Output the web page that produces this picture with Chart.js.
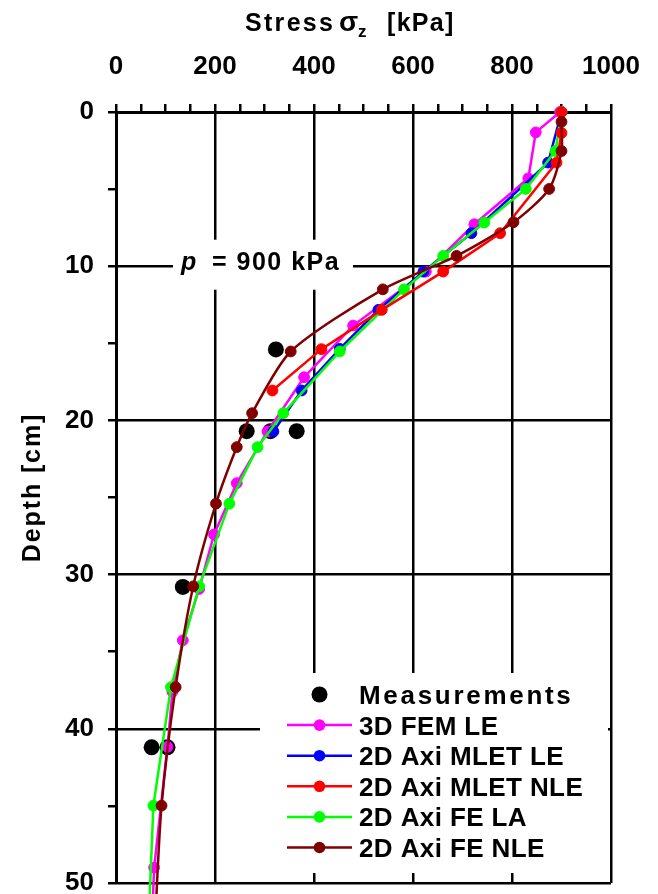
<!DOCTYPE html>
<html>
<head>
<meta charset="utf-8">
<script src="https://cdn.jsdelivr.net/npm/chart.js@4.4.0/dist/chart.umd.min.js"></script>
<style>
  html, body { margin: 0; padding: 0; background: #fff; }
  #wrap { width: 658px; height: 894px; position: relative; }
  canvas { display: block; }
</style>
</head>
<body>
<div id="wrap"><canvas id="c" width="658" height="894"></canvas></div>
<script>
const FONT = '"Liberation Sans", Arial, Helvetica, sans-serif';

// Axis ticks
const stressTickLabels = [0, 200, 400, 600, 800, 1000];   // kPa
const depthTickLabels = [0, 10, 20, 30, 40, 50];          // cm

// Measured stresses (kPa) at gauge depths (cm)
const measDepth  = [15.4, 20.7, 20.7, 20.7, 30.8, 41.2, 41.2];
const measStress = [323, 264, 312, 365, 135, 72, 104];

// 3D FEM, linear elastic
const fem3dDepth  = [0, 1.32, 4.3, 7.28, 10.35, 13.85, 17.2, 20.72, 24.07, 27.4, 30.93, 34.26, 37.6, 41.17, 49.0, 52.3];
const fem3dStress = [897, 848, 833, 724, 626, 479, 380, 306, 244, 198, 168, 135, 114, 104, 77, 73];

// 2D axisymmetric multilayer elastic theory, linear elastic
const mletLEDepth  = [0, 3.28, 7.86, 10.35, 12.83, 15.36, 18.06, 20.72];
const mletLEStress = [900, 873, 718, 621, 530, 452, 375, 318];

// 2D axisymmetric multilayer elastic theory, nonlinear elastic
const mletNLEDepth  = [0, 1.36, 3.28, 7.86, 10.35, 12.83, 15.38, 18.06];
const mletNLEStress = [900, 900, 890, 776, 661, 537, 415, 316];

// 2D axisymmetric finite elements, linear
const feLADepth  = [0, 2.53, 4.99, 7.17, 9.33, 11.5, 15.53, 19.53, 21.73, 25.4, 30.76, 37.3, 44.98, 52.5];
const feLAStress = [900, 888, 828, 744, 661, 582, 452, 338, 286, 229, 168, 111, 75.5, 66];

// 2D axisymmetric finite elements, nonlinear elastic
const feNLEDepth  = [0.63, 2.53, 4.99, 7.15, 9.33, 11.5, 15.53, 19.53, 21.73, 25.4, 30.76, 37.3, 44.98, 52.5];
const feNLEStress = [900, 900, 875, 803, 688, 539, 353, 275, 244, 202, 156, 120.5, 92, 79];

const seriesNames = ['Measurements', '3D FEM LE', '2D Axi MLET LE', '2D Axi MLET NLE', '2D Axi FE LA', '2D Axi FE NLE'];
const seriesColors = ['#000000', '#ff00ff', '#0000ff', '#ff0000', '#00ff00', '#800000'];

function pts(stress, depth) {
  return stress.map((s, i) => ({ x: s, y: depth[i] }));
}

function lineSet(idx, stress, depth, order, tension) {
  return {
    label: seriesNames[idx],
    data: pts(stress, depth),
    borderColor: seriesColors[idx],
    backgroundColor: seriesColors[idx],
    pointBackgroundColor: seriesColors[idx],
    pointBorderColor: seriesColors[idx],
    pointBorderWidth: 1,
    pointRadius: 5.4,
    borderWidth: 2.5,
    tension: tension || 0,
    order: order,
    clip: false
  };
}

const datasets = [
  {
    label: seriesNames[0],
    data: pts(measStress, measDepth),
    showLine: false,
    pointRadius: 8,
    pointBackgroundColor: seriesColors[0],
    pointBorderColor: seriesColors[0],
    pointBorderWidth: 0,
    borderColor: seriesColors[0],
    backgroundColor: seriesColors[0],
    order: 6,
    clip: false
  },
  lineSet(1, fem3dStress, fem3dDepth, 5),
  lineSet(2, mletLEStress, mletLEDepth, 4),
  lineSet(3, mletNLEStress, mletNLEDepth, 2),
  lineSet(4, feLAStress, feLADepth, 3),
  lineSet(5, feNLEStress, feNLEDepth, 1, 0.25)
];

// Axis titles, load annotation and the legend panel
const decorations = {
  id: 'decorations',
  beforeDatasetsDraw(chart) {
    const ctx = chart.ctx;
    const xs = chart.scales.x, ys = chart.scales.y;
    // "p = 900 kPa" note on the 10 cm grid line
    const cx = xs.getPixelForValue(297);
    const cy = ys.getPixelForValue(10) - 1.5;
    ctx.save();
    ctx.fillStyle = '#fff';
    ctx.fillRect(cx - 90, cy - 25, 180, 50);
    ctx.fillStyle = '#000';
    ctx.textBaseline = 'alphabetic';
    ctx.font = 'italic bold 25px ' + FONT;
    ctx.fillText('p', cx - 82, cy + 5);
    ctx.font = 'bold 25px ' + FONT;
    ctx.letterSpacing = '1.5px';
    ctx.fillText('= 900 kPa', cx - 51, cy + 5);
    ctx.restore();
  },
  afterDraw(chart) {
    const ctx = chart.ctx;
    const area = chart.chartArea;
    ctx.save();
    ctx.fillStyle = '#000';
    ctx.textBaseline = 'alphabetic';

    // Top axis title: Stress σz [kPa]
    const base = 31;
    ctx.font = 'bold 25px ' + FONT;
    ctx.letterSpacing = '2.3px';
    ctx.fillText('Stress', 245, base);
    ctx.letterSpacing = '0px';
    ctx.font = 'bold 28px ' + FONT;
    ctx.fillText('σ', 339, base);
    ctx.font = 'bold 17px ' + FONT;
    ctx.fillText('z', 358, base + 6);
    ctx.font = 'bold 25px ' + FONT;
    ctx.letterSpacing = '1.3px';
    ctx.fillText('[kPa]', 387, base);

    // Left axis title
    ctx.save();
    ctx.translate(40, 487.5);
    ctx.rotate(-Math.PI / 2);
    ctx.textAlign = 'center';
    ctx.font = 'bold 25px ' + FONT;
    ctx.letterSpacing = '1.9px';
    ctx.fillText('Depth [cm]', 0, 0);
    ctx.restore();

    // Legend panel
    const lx0 = 260, ly0 = 673, lx1 = area.right - 3, ly1 = 873;
    ctx.fillStyle = '#fff';
    ctx.fillRect(lx0, ly0, lx1 - lx0, ly1 - ly0);
    const rowY0 = 694.5, rowStep = 30.6;
    chart.data.datasets.forEach((ds, i) => {
      const y = rowY0 + i * rowStep;
      const col = seriesColors[i];
      if (ds.showLine !== false) {
        ctx.strokeStyle = col;
        ctx.lineWidth = 2.5;
        ctx.beginPath();
        ctx.moveTo(287, y);
        ctx.lineTo(352, y);
        ctx.stroke();
      }
      ctx.fillStyle = col;
      ctx.beginPath();
      ctx.arc(319.5, y, ds.showLine === false ? 8 : 5.8, 0, Math.PI * 2);
      ctx.fill();
      ctx.fillStyle = '#000';
      ctx.font = 'bold 26px ' + FONT;
      ctx.letterSpacing = i === 0 ? '2.7px' : '0.4px';
      ctx.fillText(ds.label, 359, y + 9.5);
    });
    ctx.restore();
  }
};

const gridBlack = '#000';

new Chart(document.getElementById('c'), {
  type: 'line',
  data: { datasets },
  plugins: [decorations],
  options: {
    responsive: false,
    animation: false,
    devicePixelRatio: 1,
    layout: { padding: { left: 0, top: 0, right: 47, bottom: 11 } },
    plugins: {
      legend: { display: false },
      tooltip: { enabled: false },
      title: { display: false }
    },
    scales: {
      x: {
        type: 'linear',
        position: 'top',
        min: 0,
        max: 1000,
        afterFit(s) { s.height = 112; s.paddingLeft = 0; s.paddingRight = 0; },
        afterBuildTicks(s) {
          const t = [];
          for (let v = 0; v <= 1000; v += 50) t.push({ value: v });
          s.ticks = t;
        },
        ticks: {
          autoSkip: false,
          maxRotation: 0,
          padding: 22,
          color: '#000',
          font: { family: FONT, size: 26, weight: 'bold' },
          callback: (v) => stressTickLabels.includes(v) ? String(v) : ''
        },
        grid: {
          drawOnChartArea: true,
          drawTicks: true,
          tickLength: 8,
          lineWidth: 2.5,
          tickWidth: 2.5,
          tickColor: '#000',
          color: (c) => (c.tick && stressTickLabels.includes(c.tick.value)) ? gridBlack : 'rgba(0,0,0,0)'
        },
        border: { display: true, color: '#000', width: 3 }
      },
      y: {
        type: 'linear',
        position: 'left',
        reverse: true,
        min: 0,
        max: 50,
        afterFit(s) { s.width = 116; s.paddingTop = 0; s.paddingBottom = 0; },
        afterBuildTicks(s) {
          const t = [];
          for (let v = 0; v <= 50; v += 5) t.push({ value: v });
          s.ticks = t;
        },
        ticks: {
          autoSkip: false,
          padding: 14,
          color: '#000',
          font: { family: FONT, size: 26, weight: 'bold' },
          callback: (v) => depthTickLabels.includes(v) ? String(v) : ''
        },
        grid: {
          drawOnChartArea: true,
          drawTicks: true,
          tickLength: 8,
          lineWidth: 2.5,
          tickWidth: 2.5,
          tickColor: '#000',
          color: (c) => (c.tick && depthTickLabels.includes(c.tick.value)) ? gridBlack : 'rgba(0,0,0,0)'
        },
        border: { display: true, color: '#000', width: 3 }
      }
    }
  }
});
</script>
</body>
</html>
